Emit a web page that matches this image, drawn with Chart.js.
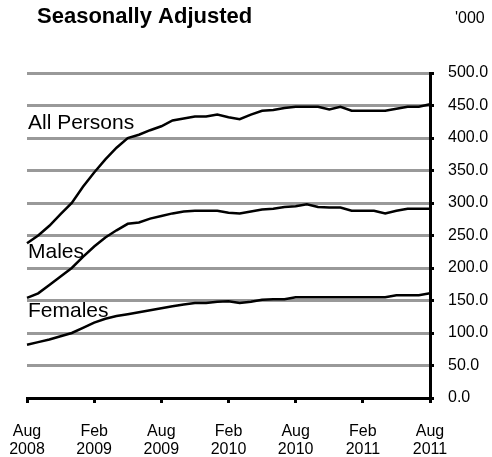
<!DOCTYPE html>
<html>
<head>
<meta charset="utf-8">
<script src="https://cdn.jsdelivr.net/npm/chart.js@4"></script>
<style>
  html, body { margin: 0; padding: 0; background: #fff; }
  #wrap { width: 492px; height: 457px; position: relative; }
</style>
</head>
<body>
<div id="wrap"><canvas id="chart" width="492" height="457"></canvas></div>
<script>
const months = [
    'Aug 2008', 'Sep 2008', 'Oct 2008', 'Nov 2008', 'Dec 2008',
    'Jan 2009', 'Feb 2009', 'Mar 2009', 'Apr 2009', 'May 2009', 'Jun 2009',
    'Jul 2009', 'Aug 2009', 'Sep 2009', 'Oct 2009', 'Nov 2009', 'Dec 2009',
    'Jan 2010', 'Feb 2010', 'Mar 2010', 'Apr 2010', 'May 2010', 'Jun 2010',
    'Jul 2010', 'Aug 2010', 'Sep 2010', 'Oct 2010', 'Nov 2010', 'Dec 2010',
    'Jan 2011', 'Feb 2011', 'Mar 2011', 'Apr 2011', 'May 2011', 'Jun 2011',
    'Jul 2011', 'Aug 2011'
];

const allPersons = [238, 250, 265, 283, 300, 325, 347, 367, 385, 400, 405, 412, 418,
    427, 430, 433, 433, 436, 432, 429, 436, 442, 443, 446, 448, 448, 448, 444, 448,
    442, 442, 442, 442, 445, 448, 448, 452];
const males = [154, 161, 174, 187, 200, 217, 233, 247, 258, 268, 270, 276, 280,
    284, 287, 288, 288, 288, 285, 284, 287, 290, 291, 294, 295, 298, 294, 293, 293,
    288, 288, 288, 284, 288, 291, 291, 291];
const females = [82, 86, 90, 95, 100, 108, 116, 122, 126, 129, 132, 135, 138,
    141, 144, 146, 146, 148, 149, 146, 148, 151, 152, 152, 155, 155, 155, 155, 155,
    155, 155, 155, 155, 158, 158, 158, 161];

const seriesNames = ['All Persons', 'Males', 'Females'];
const nameLevels = [414, 215, 125]; // y value where each series name sits

const FONT = "'Liberation Sans', Arial, sans-serif";

// titles and the series names written onto the plot
const textPlugin = {
    id: 'texts',
    afterDraw(chart) {
        const c = chart.ctx;
        const x = chart.scales.x;
        const y = chart.scales.y;
        c.save();
        c.fillStyle = '#000';
        c.textBaseline = 'alphabetic';
        c.textAlign = 'left';
        c.font = 'bold 22px ' + FONT;
        c.fillText('Seasonally Adjusted', 37, 23);
        c.font = '16px ' + FONT;
        c.fillText("'000", 455, 23);
        c.font = '21px ' + FONT;
        seriesNames.forEach(function(name, i) {
            c.fillText(name, x.getPixelForValue(0) + 1, y.getPixelForValue(nameLevels[i]));
        });
        c.restore();
    }
};

const line = (data) => ({
    data: data,
    borderColor: '#000',
    borderWidth: 2.5,
    pointRadius: 0,
    tension: 0,
    fill: false
});

new Chart(document.getElementById('chart').getContext('2d'), {
    type: 'line',
    data: {
        labels: months,
        datasets: [line(allPersons), line(males), line(females)]
    },
    options: {
        responsive: false,
        animation: false,
        layout: { padding: { left: 27, top: 73, right: 0, bottom: 0 } },
        plugins: { legend: { display: false }, tooltip: { enabled: false } },
        scales: {
            x: {
                offset: false,
                border: { display: true, color: '#000', width: 3 },
                grid: {
                    drawOnChartArea: false,
                    tickLength: 5,
                    lineWidth: 3,
                    tickColor: (ctx) => ctx.index % 6 === 0 ? '#000' : 'rgba(0,0,0,0)'
                },
                ticks: {
                    autoSkip: false,
                    maxRotation: 0,
                    padding: 20,
                    color: '#000',
                    font: { family: FONT, size: 16, lineHeight: 1.1 },
                    callback: function(v, i) {
                        return i % 6 === 0 ? months[i].split(' ') : '';
                    }
                },
                afterFit: (s) => {
                    s.height = 59;
                    s.paddingLeft = 0;
                    s.paddingRight = 0;
                }
            },
            y: {
                position: 'right',
                min: 0,
                max: 500,
                border: { display: true, color: '#000', width: 3 },
                grid: {
                    color: '#999999',
                    lineWidth: 3,
                    tickLength: 4,
                    tickColor: '#000'
                },
                ticks: {
                    stepSize: 50,
                    padding: 14,
                    color: '#000',
                    font: { family: FONT, size: 16 },
                    callback: (v) => v.toFixed(1)
                },
                afterFit: (s) => { s.width = 62; }
            }
        }
    },
    plugins: [textPlugin]
});
</script>
</body>
</html>
